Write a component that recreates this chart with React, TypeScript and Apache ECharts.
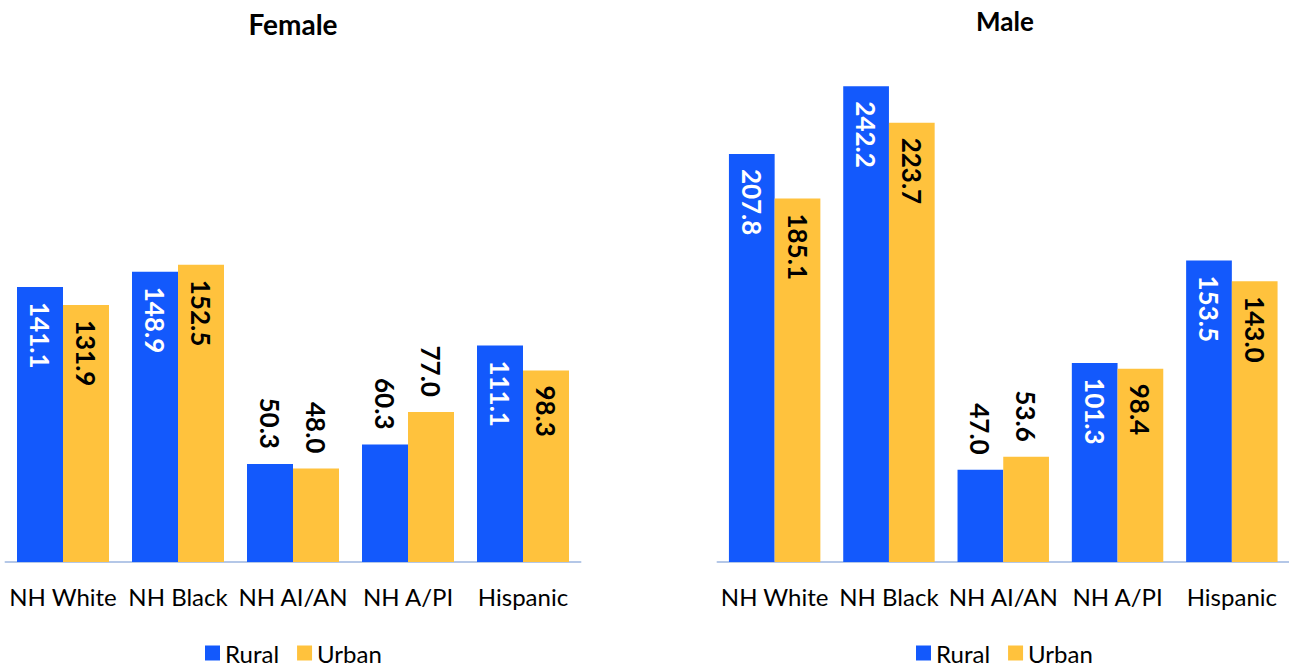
import React, { useEffect, useRef } from "react";
import * as echarts from "echarts";

const categories = ["NH White", "NH Black", "NH AI/AN", "NH A/PI", "Hispanic"];
const seriesNames = ["Rural", "Urban"];
const femaleRural = [141.1, 148.9, 50.3, 60.3, 111.1];
const femaleUrban = [131.9, 152.5, 48.0, 77.0, 98.3];
const maleRural = [207.8, 242.2, 47.0, 101.3, 153.5];
const maleUrban = [185.1, 223.7, 53.6, 98.4, 143.0];
const panelTitles = ["Female", "Male"];

const BLUE = "#1359FC";
const YELLOW = "#FFC23D";
const FONT = "Lato, 'Open Sans', sans-serif";

function mkData(vals: number[], insideColor: string) {
  return vals.map((v) =>
    v < 90
      ? { value: v, label: { position: "top", align: "right", color: "#000" } }
      : { value: v, label: { position: "insideTop", align: "left", color: insideColor } }
  );
}

function mkSeries(name: string, vals: number[], color: string, insideColor: string, idx: number) {
  return {
    type: "bar",
    name,
    xAxisIndex: idx,
    yAxisIndex: idx,
    data: mkData(vals, insideColor),
    itemStyle: { color },
    barGap: "0%",
    barCategoryGap: "20%",
    label: {
      show: true,
      rotate: -90,
      verticalAlign: "middle",
      fontFamily: FONT,
      fontWeight: "bold",
      fontSize: 26,
      distance: 15,
      formatter: (p: any) => Number(p.value).toFixed(1),
    },
  };
}

export default function App() {
  const ref = useRef<HTMLDivElement>(null);
  useEffect(() => {
    document.body.style.margin = "0";
    const chart = echarts.init(ref.current!, null, { renderer: "svg" });
    const xAxisBase = {
      type: "category",
      data: categories,
      axisLine: { lineStyle: { color: "#B4C7E7", width: 2 } },
      axisTick: { show: false },
      axisLabel: { color: "#000", fontFamily: FONT, fontSize: 24, margin: 22, interval: 0 },
    };
    const yAxisBase = {
      type: "value",
      min: 0,
      max: 250,
      show: false,
      splitLine: { show: false },
    };
    const legendBase = {
      data: seriesNames,
      top: 641,
      padding: 0,
      itemWidth: 15,
      itemHeight: 15,
      itemGap: 18,
      icon: "rect",
      textStyle: { fontFamily: FONT, fontSize: 24, lineHeight: 24, color: "#000" },
    };
    chart.setOption({
      animation: false,
      title: [
        {
          text: panelTitles[0],
          left: 288,
          textAlign: "center",
          top: 5,
          textStyle: { fontFamily: FONT, fontWeight: "bold", fontSize: 28, color: "#000" },
        },
        {
          text: panelTitles[1],
          left: 1000,
          textAlign: "center",
          top: 3,
          textStyle: { fontFamily: FONT, fontWeight: "bold", fontSize: 26, color: "#000" },
        },
      ],
      legend: [
        { ...legendBase, left: 205 },
        { ...legendBase, left: 916 },
      ],
      grid: [
        { left: 5.5, width: 575, top: 74.7, height: 487.3 },
        { left: 717.5, width: 575, top: 71, height: 491 },
      ],
      xAxis: [
        { ...xAxisBase, gridIndex: 0 },
        { ...xAxisBase, gridIndex: 1 },
      ],
      yAxis: [
        { ...yAxisBase, gridIndex: 0 },
        { ...yAxisBase, gridIndex: 1 },
      ],
      series: [
        mkSeries(seriesNames[0], femaleRural, BLUE, "#fff", 0),
        mkSeries(seriesNames[1], femaleUrban, YELLOW, "#000", 0),
        mkSeries(seriesNames[0], maleRural, BLUE, "#fff", 1),
        mkSeries(seriesNames[1], maleUrban, YELLOW, "#000", 1),
      ],
    });
    return () => chart.dispose();
  }, []);
  return <div ref={ref} style={{ width: 1289, height: 671 }} />;
}
